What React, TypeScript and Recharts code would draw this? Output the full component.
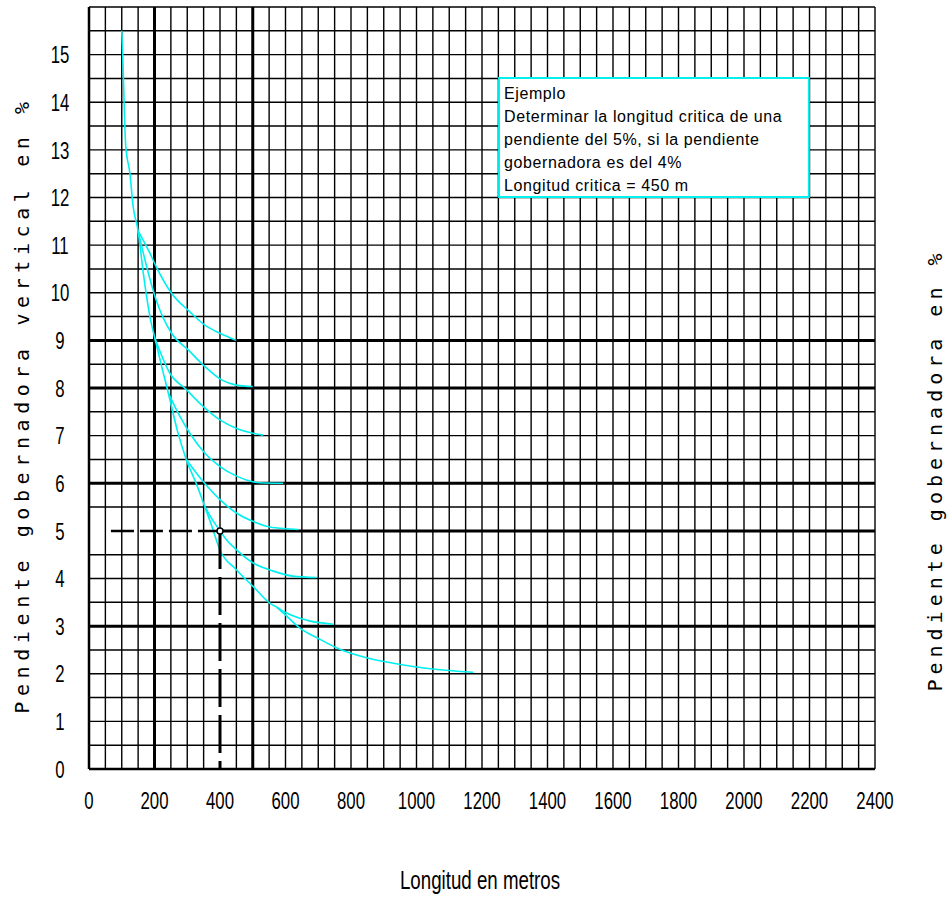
import React from 'react';
import {
  LineChart,
  Line,
  XAxis,
  YAxis,
  CartesianGrid,
  ReferenceLine,
  ReferenceArea,
  ReferenceDot,
} from 'recharts';

const trunk = [
  { x: 100, y: 15.5 }, { x: 103, y: 15.0 }, { x: 108, y: 13.8 }, { x: 112, y: 13.1 },
  { x: 125, y: 12.5 }, { x: 135, y: 11.8 }, { x: 150, y: 11.3 }, { x: 166, y: 10.4 },
  { x: 186, y: 9.5 }, { x: 201, y: 9.05 }, { x: 222, y: 8.45 }, { x: 242, y: 7.9 },
  { x: 270, y: 7.1 }, { x: 297, y: 6.5 }, { x: 330, y: 5.95 }, { x: 353, y: 5.52 },
  { x: 375, y: 5.1 }, { x: 399, y: 4.61 }, { x: 449, y: 4.19 }, { x: 500, y: 3.84 },
  { x: 551, y: 3.49 }, { x: 573, y: 3.4 },
];
const grade9 = [
  { x: 150, y: 11.3 }, { x: 186, y: 10.83 }, { x: 205, y: 10.55 }, { x: 252, y: 9.99 },
  { x: 308, y: 9.6 }, { x: 354, y: 9.32 }, { x: 400, y: 9.15 }, { x: 449, y: 9.0 },
];
const grade8 = [
  { x: 150, y: 11.3 }, { x: 176, y: 10.55 }, { x: 205, y: 9.85 }, { x: 252, y: 9.15 },
  { x: 303, y: 8.8 }, { x: 354, y: 8.45 }, { x: 405, y: 8.17 }, { x: 450, y: 8.06 },
  { x: 500, y: 8.03 },
];
const grade7 = [
  { x: 201, y: 9.05 }, { x: 247, y: 8.31 }, { x: 298, y: 7.96 }, { x: 349, y: 7.61 },
  { x: 400, y: 7.33 }, { x: 451, y: 7.15 }, { x: 500, y: 7.05 }, { x: 532, y: 7.01 },
];
const grade6 = [
  { x: 242, y: 7.9 }, { x: 278, y: 7.4 }, { x: 308, y: 7.05 }, { x: 354, y: 6.63 },
  { x: 400, y: 6.35 }, { x: 451, y: 6.15 }, { x: 522, y: 6.01 }, { x: 593, y: 6.0 },
];
const grade5 = [
  { x: 297, y: 6.5 }, { x: 348, y: 6.04 }, { x: 399, y: 5.66 }, { x: 449, y: 5.38 },
  { x: 500, y: 5.2 }, { x: 561, y: 5.07 }, { x: 639, y: 5.03 },
];
const grade4 = [
  { x: 353, y: 5.52 }, { x: 380, y: 5.2 }, { x: 400, y: 5.0 }, { x: 419, y: 4.82 },
  { x: 449, y: 4.61 }, { x: 500, y: 4.33 }, { x: 561, y: 4.16 }, { x: 622, y: 4.05 },
  { x: 695, y: 4.02 },
];
const grade3 = [
  { x: 573, y: 3.4 }, { x: 602, y: 3.28 }, { x: 673, y: 3.11 }, { x: 746, y: 3.04 },
];
const grade2 = [
  { x: 573, y: 3.4 }, { x: 602, y: 3.22 }, { x: 642, y: 2.97 }, { x: 703, y: 2.73 },
  { x: 764, y: 2.52 }, { x: 845, y: 2.34 }, { x: 946, y: 2.2 }, { x: 1048, y: 2.1 },
  { x: 1173, y: 2.03 },
];
const curves = [trunk, grade9, grade8, grade7, grade6, grade5, grade4, grade3, grade2];

// ejemplo: pendiente 5%, longitud leida
const exampleH = [{ x: 67, y: 5 }, { x: 400, y: 5 }];
const exampleV = [{ x: 400, y: 5 }, { x: 400, y: 0 }];

const xTicks = [0, 200, 400, 600, 800, 1000, 1200, 1400, 1600, 1800, 2000, 2200, 2400];
const leftTicks = [0, 1, 2, 3, 4, 5, 6, 7, 8, 9, 10, 11, 12, 13, 14, 15];
const rightTicks = [0, 1, 2, 3, 4, 5, 6, 7, 8, 9];
// malla cada 50 m y cada 0.5 %, sin las lineas que ocupa el ejemplo
const gridX = Array.from({ length: 49 }, (_, i) => i * 50).filter((v) => v !== 400);
const gridY = Array.from({ length: 33 }, (_, i) => i * 0.5).filter((v) => v !== 5);
const thickX = [200, 500];
const thickY = [3, 6, 8, 9];

const exampleLines = [
  'Ejemplo',
  'Determinar la longitud critica de una',
  'pendiente del 5%, si la pendiente',
  'gobernadora es del 4%',
  'Longitud critica = 450 m',
];

const CYAN = '#00f0f0';
const NARROW = "'Liberation Sans', Arial, sans-serif";
const MONO = "'DejaVu Sans Mono', monospace";

const NarrowText = ({ x, y, text, size = 24, sx = 0.7 }: any) => (
  <g transform={`translate(${x},${y}) scale(${sx},1)`}>
    <text x={0} y={0} textAnchor="middle" dominantBaseline="central" fontFamily={NARROW} fontSize={size} fill="#000">
      {text}
    </text>
  </g>
);

const XTick = (props: any) => <NarrowText x={props.x} y={props.y + 31} text={props.payload.value} />;
const LeftTick = (props: any) => <NarrowText x={props.x - 29} y={props.y} text={props.payload.value} />;
const RightTick = (props: any) => <NarrowText x={props.x + 30} y={props.y} text={props.payload.value} />;

const VerticalTitle = ({ cx, cy, text, spacing = 5 }: any) => (
  <text
    x={cx}
    y={cy}
    transform={`rotate(-90, ${cx}, ${cy})`}
    textAnchor="middle"
    dominantBaseline="central"
    fontFamily={MONO}
    fontSize={20}
    letterSpacing={spacing}
    fill="#000"
  >
    {text}
  </text>
);

const ExampleText = (props: any) => {
  const { x, y } = props.viewBox;
  return (
    <g>
      {exampleLines.map((line, i) => (
        <text
          key={i}
          x={x + 5}
          y={y + 16 + i * 23}
          dominantBaseline="central"
          fontFamily={NARROW}
          fontSize={16}
          letterSpacing={0.6}
          fill="#000"
        >
          {line}
        </text>
      ))}
    </g>
  );
};

export default function App() {
  return (
    <div style={{ position: 'absolute', left: 0, top: 0, width: 948, height: 913, background: '#fff' }}>
      <LineChart width={948} height={913} margin={{ top: 7, right: 0, bottom: 0, left: 0 }}>
        <CartesianGrid
          verticalValues={gridX}
          horizontalValues={gridY}
          stroke="#000"
          strokeWidth={1.4}
          strokeOpacity={1}
        />
        <XAxis
          dataKey="x"
          type="number"
          domain={[0, 2400]}
          ticks={xTicks}
          height={144}
          axisLine={false}
          tickLine={false}
          tickSize={0}
          tickMargin={0}
          tick={XTick}
          interval={0}
          label={{
            content: (p: any) => (
              <NarrowText
                x={p.viewBox.x + p.viewBox.width / 2 - 2}
                y={p.viewBox.y + 111}
                text="Longitud en metros"
                size={26}
                sx={0.72}
              />
            ),
          }}
        />
        <YAxis
          type="number"
          domain={[0, 16]}
          ticks={leftTicks}
          width={89}
          axisLine={false}
          tickLine={false}
          tickSize={0}
          tickMargin={0}
          tick={LeftTick}
          interval={0}
          label={{
            content: (p: any) => (
              <VerticalTitle
                cx={p.viewBox.x + 22}
                cy={p.viewBox.y + p.viewBox.height / 2 + 17}
                text="Pendiente gobernadora vertical en %"
                spacing={5.6}
              />
            ),
          }}
        />
        <YAxis
          yAxisId="right"
          orientation="right"
          type="number"
          domain={[0, 16]}
          ticks={rightTicks}
          width={73}
          axisLine={false}
          tickLine={false}
          tickSize={0}
          tickMargin={0}
          tick={RightTick}
          interval={0}
          label={{
            content: (p: any) => (
              <VerticalTitle
                cx={p.viewBox.x + 60}
                cy={p.viewBox.y + p.viewBox.height / 2 + 82}
                text="Pendiente gobernadora en %"
              />
            ),
          }}
        />
        {thickX.map((v) => (
          <ReferenceLine key={`tx${v}`} x={v} stroke="#000" strokeWidth={3} />
        ))}
        {thickY.map((v) => (
          <ReferenceLine key={`ty${v}`} y={v} stroke="#000" strokeWidth={3} />
        ))}
        <ReferenceLine segment={[{ x: 400, y: 5 }, { x: 2400, y: 5 }]} stroke="#000" strokeWidth={3} />
        <ReferenceLine segment={[{ x: 400, y: 5 }, { x: 400, y: 16 }]} stroke="#000" strokeWidth={1.4} />
        <ReferenceLine x={0} stroke="#000" strokeWidth={2.5} />
        <ReferenceLine y={0} stroke="#000" strokeWidth={2.5} />
        <ReferenceArea
          x1={1252}
          x2={2198}
          y1={12.01}
          y2={14.51}
          fill="#fff"
          fillOpacity={1}
          stroke={CYAN}
          strokeWidth={2}
          label={{ content: ExampleText }}
        />
        {curves.map((d, i) => (
          <Line
            key={i}
            data={d}
            dataKey="y"
            type="monotone"
            stroke={CYAN}
            strokeWidth={1.6}
            dot={false}
            activeDot={false}
            isAnimationActive={false}
          />
        ))}
        <Line
          data={exampleH}
          dataKey="y"
          type="linear"
          stroke="#000"
          strokeWidth={2.5}
          strokeDasharray="23 6"
          dot={false}
          activeDot={false}
          isAnimationActive={false}
        />
        <Line
          data={exampleV}
          dataKey="y"
          type="linear"
          stroke="#000"
          strokeWidth={3}
          strokeDasharray="38 8"
          dot={false}
          activeDot={false}
          isAnimationActive={false}
        />
        <ReferenceDot x={400} y={5} r={3} fill="#fff" stroke="#000" strokeWidth={1.5} />
      </LineChart>
    </div>
  );
}
